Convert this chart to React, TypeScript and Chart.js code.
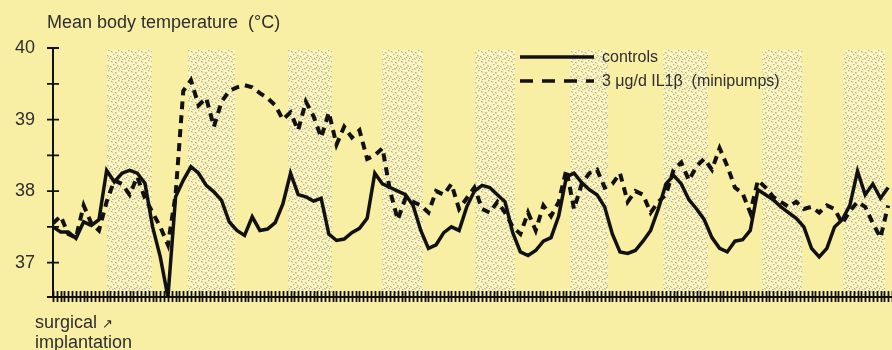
import React, { useEffect, useRef } from "react";
import { Chart, registerables } from "chart.js";

Chart.register(...registerables);

// ---- data (hours after start, mean body temperature °C) ----
const hours = [
  0, 2, 4, 6, 8, 10, 12, 14, 16, 18, 20, 22, 24, 26, 28, 30, 32, 34, 36, 38,
  40, 42, 44, 46, 48, 50, 52, 54, 56, 58, 60, 62, 64, 66, 68, 70, 72, 74, 76, 78,
  80, 82, 84, 86, 88, 90, 92, 94, 96, 98, 100, 102, 104, 106, 108, 110, 112, 114, 116, 118,
  120, 122, 124, 126, 128, 130, 132, 134, 136, 138, 140, 142, 144, 146, 148, 150, 152, 154, 156, 158,
  160, 162, 164, 166, 168, 170, 172, 174, 176, 178, 180, 182, 184, 186, 188, 190, 192, 194, 196, 198,
  200, 202, 204, 206, 208, 210, 212, 214, 216, 218,
];

const controls = [
  37.5, 37.43, 37.43, 37.34, 37.57, 37.52, 37.6, 38.29, 38.13, 38.25, 38.29, 38.25, 38.11, 37.5, 37.08, 36.52, 37.92, 38.15, 38.34, 38.25,
  38.08, 37.99, 37.87, 37.57, 37.45, 37.38, 37.64, 37.45, 37.47, 37.56, 37.82, 38.25, 37.95, 37.92, 37.86, 37.9, 37.4, 37.31, 37.33, 37.42,
  37.48, 37.62, 38.25, 38.1, 38.05, 38.0, 37.95, 37.8, 37.45, 37.2, 37.25, 37.42, 37.5, 37.45, 37.78, 38.0, 38.08, 38.05, 37.95, 37.85,
  37.42, 37.15, 37.1, 37.17, 37.3, 37.35, 37.65, 38.2, 38.25, 38.12, 38.02, 37.95, 37.78, 37.4, 37.15, 37.13, 37.17, 37.3, 37.45, 37.75,
  38.1, 38.22, 38.1, 37.88, 37.75, 37.6, 37.35, 37.2, 37.15, 37.3, 37.32, 37.45, 38.02, 37.95, 37.88, 37.78, 37.7, 37.62, 37.5, 37.2,
  37.08, 37.2, 37.5, 37.6, 37.8, 38.28, 37.95, 38.1, 37.9, 38.05,
];

const il1b = [
  37.55, 37.65, 37.4, 37.35, 37.8, 37.55, 37.45, 37.85, 38.15, 38.1, 37.95, 38.2, 37.9, 37.7, 37.5, 37.25, 37.95, 39.4, 39.55, 39.2,
  39.3, 38.9, 39.25, 39.4, 39.45, 39.48, 39.45, 39.37, 39.3, 39.2, 39.0, 39.1, 38.85, 39.25, 39.05, 38.75, 39.1, 38.65, 38.9, 38.75,
  38.85, 38.45, 38.5, 38.6, 38.0, 37.6, 37.9, 37.85, 37.8, 37.7, 38.0, 37.95, 38.1, 37.75, 37.9, 38.05, 37.75, 37.7, 37.85, 37.7,
  37.5, 37.4, 37.7, 37.45, 37.8, 37.65, 37.85, 38.3, 37.75, 38.1, 38.25, 38.3, 38.05, 38.1, 38.25, 37.85, 38.0, 37.95, 37.7, 37.85,
  37.95, 38.3, 38.4, 38.15, 38.35, 38.45, 38.3, 38.6, 38.35, 38.05, 37.97, 37.7, 38.15, 38.05, 37.92, 37.85, 37.78, 37.85, 37.75, 37.78,
  37.7, 37.8, 37.75, 37.55, 37.72, 37.85, 37.78, 37.55, 37.35, 37.8,
];

// dark (night) periods, in hours
const nightStart = [14.1, 35.2, 61.4, 85.9, 110.2, 135.0, 159.3, 185.1, 206.3];
const nightEnd = [25.8, 47.5, 72.8, 96.6, 120.6, 144.9, 171.0, 195.6, 217.2];

const yTickValues = [37, 37.5, 38, 38.5, 39, 39.5, 40];
const xMin = 0;
const xMax = 219;
const yMin = 36.52;
const yMax = 40;

const seriesLabels = ["controls", "3 μg/d IL1β  (minipumps)"];

const BG = "#f9efa4";
const INK = "#111111";
const TEXT = "#2e2e2e";
const FONT = "'Liberation Sans', Arial, Helvetica, sans-serif";

function makePattern(): CanvasPattern | string {
  const c = document.createElement("canvas");
  c.width = 10;
  c.height = 10;
  const g = c.getContext("2d");
  if (!g) return "rgba(180,175,140,0.3)";
  g.fillStyle = "rgba(255,252,225,0.45)";
  g.fillRect(0, 0, 10, 10);
  g.fillStyle = "rgba(120,118,95,0.55)";
  const dots = [
    [1, 1], [5, 2], [8, 0], [3, 4], [7, 5], [0, 6], [4, 8], [9, 8], [6, 7], [2, 9],
  ];
  dots.forEach(([dx, dy]) => g.fillRect(dx, dy, 1.4, 1.2));
  g.fillStyle = "rgba(150,148,120,0.35)";
  [[2, 2], [6, 3], [8, 6], [1, 7], [5, 9]].forEach(([dx, dy]) => g.fillRect(dx, dy, 1, 1));
  const p = g.createPattern(c, "repeat");
  return p || "rgba(180,175,140,0.3)";
}

export default function App() {
  const ref = useRef<HTMLCanvasElement | null>(null);

  useEffect(() => {
    document.body.style.margin = "0";
    const canvas = ref.current;
    if (!canvas) return;
    const pattern = makePattern();

    const bandsPlugin = {
      id: "nightBands",
      beforeDatasetsDraw(chart: any) {
        const { ctx, chartArea, scales } = chart;
        const x = scales.x;
        ctx.save();
        ctx.fillStyle = pattern;
        nightStart.forEach((s, i) => {
          const x0 = x.getPixelForValue(s);
          const x1 = x.getPixelForValue(nightEnd[i]);
          ctx.fillRect(x0, chartArea.top + 2, x1 - x0, chartArea.bottom - chartArea.top - 4);
        });
        ctx.restore();
      },
    };

    const ticksPlugin = {
      id: "crossTicks",
      afterDraw(chart: any) {
        const { ctx, scales } = chart;
        const x = scales.x;
        const y = scales.y;
        ctx.save();
        ctx.strokeStyle = INK;
        ctx.lineWidth = 1.8;
        ctx.beginPath();
        y.ticks.forEach((t: any) => {
          const py = y.getPixelForValue(t.value);
          ctx.moveTo(y.right - 6, py);
          ctx.lineTo(y.right + 6, py);
        });
        // extend the base line a little left of the vertical axis
        ctx.moveTo(x.left - 6, x.top);
        ctx.lineTo(x.left, x.top);
        x.ticks.forEach((t: any) => {
          const px = Math.round(x.getPixelForValue(t.value)) + 0.5;
          ctx.moveTo(px, x.top - 6);
          ctx.lineTo(px, x.top + 5);
        });
        ctx.stroke();
        ctx.restore();
      },
    };

    const legendPlugin = {
      id: "inlineLegend",
      afterDatasetsDraw(chart: any) {
        const { ctx } = chart;
        ctx.save();
        chart.data.datasets.forEach((ds: any, i: number) => {
          const yy = 57 + i * 24;
          ctx.strokeStyle = ds.borderColor;
          ctx.lineWidth = 3.5;
          ctx.setLineDash(i === 0 ? [] : [13, 9]);
          ctx.beginPath();
          ctx.moveTo(520, yy);
          ctx.lineTo(594, yy);
          ctx.stroke();
          ctx.setLineDash([]);
          ctx.fillStyle = TEXT;
          ctx.font = `16px ${FONT}`;
          ctx.textBaseline = "middle";
          ctx.textAlign = "left";
          ctx.fillText(ds.label, 602, yy + 0.5);
        });
        ctx.restore();
      },
    };

    const chart = new Chart(canvas, {
      type: "line",
      data: {
        datasets: [
          {
            label: seriesLabels[0],
            data: hours.map((h, i) => ({ x: h, y: controls[i] })),
            borderColor: INK,
            borderWidth: 3.5,
            pointRadius: 0,
            tension: 0,
            fill: false,
          },
          {
            label: seriesLabels[1],
            data: hours.map((h, i) => ({ x: h, y: il1b[i] })),
            borderColor: INK,
            borderWidth: 4,
            borderDash: [8, 6],
            pointRadius: 0,
            tension: 0,
            fill: false,
          },
        ],
      },
      options: {
        responsive: false,
        animation: false,
        devicePixelRatio: 1,
        layout: { padding: { top: 48, left: 0, right: 0, bottom: 0 } },
        plugins: {
          legend: { display: false },
          title: { display: false },
          tooltip: { enabled: false },
        },
        scales: {
          x: {
            type: "linear",
            min: xMin,
            max: xMax,
            grid: { display: false, drawTicks: false },
            border: { display: true, color: INK, width: 2 },
            ticks: { display: false, stepSize: 1, autoSkip: false },
            afterFit: (s: any) => {
              s.height = 53;
            },
          },
          y: {
            type: "linear",
            min: yMin,
            max: yMax,
            grid: { display: false, drawTicks: false },
            border: { display: true, color: INK, width: 2 },
            afterBuildTicks: (s: any) => {
              s.ticks = yTickValues.map((v) => ({ value: v }));
            },
            ticks: {
              padding: 18,
              color: TEXT,
              font: { size: 18, family: FONT },
              callback: (v: any) => (Number.isInteger(Number(v)) ? String(v) : ""),
            },
            afterFit: (s: any) => {
              s.width = 53;
            },
          },
        },
      },
      plugins: [bandsPlugin, ticksPlugin, legendPlugin],
    } as any);

    return () => chart.destroy();
  }, []);

  return (
    <div
      style={{
        position: "relative",
        width: 892,
        height: 350,
        background: BG,
        overflow: "hidden",
        fontFamily: FONT,
        color: TEXT,
      }}
    >
      <canvas
        ref={ref}
        width={892}
        height={350}
        style={{ position: "absolute", left: 0, top: 0, width: 892, height: 350 }}
      />
      <div
        style={{
          position: "absolute",
          left: 47,
          top: 13,
          fontSize: 18,
          lineHeight: "18px",
          whiteSpace: "pre",
        }}
      >
        Mean body temperature  (°C)
      </div>
      <div
        style={{
          position: "absolute",
          left: 35,
          top: 313,
          fontSize: 18,
          lineHeight: "19px",
          whiteSpace: "pre",
        }}
      >
        surgical <span style={{ fontSize: 13 }}>↗</span>
        <br />
        implantation
      </div>
    </div>
  );
}
